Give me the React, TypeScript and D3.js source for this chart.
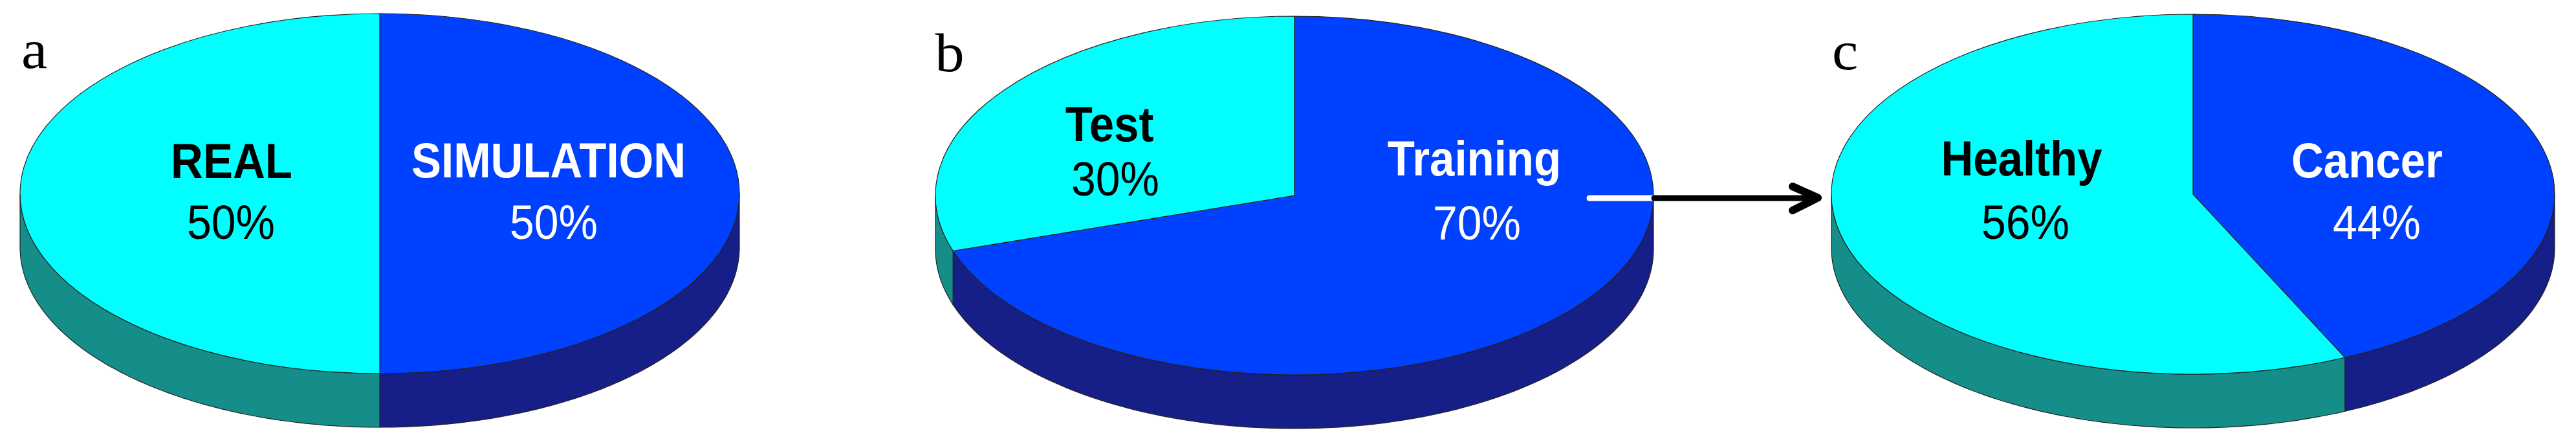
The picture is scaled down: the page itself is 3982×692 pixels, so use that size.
import React from 'react'
import * as d3 from 'd3'

const WIDTH = 3982
const HEIGHT = 692
const DEPTH = 83
const TEXT_STRETCH = 1.1

const panelLetters = ['a', 'b', 'c']

// slice shares, first one runs clockwise from 12 o'clock
const panelAShares = [50, 50]
const panelBShares = [70, 30]
const panelCShares = [43.1, 56.9]

const panelANames = ['SIMULATION', 'REAL']
const panelBNames = ['Training', 'Test']
const panelCNames = ['Cancer', 'Healthy']

const panelAPercents = ['50%', '50%']
const panelBPercents = ['70%', '30%']
const panelCPercents = ['44%', '56%']

const topColors = ['#0040ff', '#00ffff']
const wallColors = ['#161e87', '#158e8a']
const textColors = ['#ffffff', '#000000']

const pies = [
  {
    letter: panelLetters[0], letterX: 53, letterY: 105,
    shares: panelAShares, names: panelANames, percents: panelAPercents,
    cx: 587, cy: 299, rx: 556, ry: 278,
    nameAt: [[848, 274], [358, 275]], pctAt: [[856, 369], [357, 369]],
  },
  {
    letter: panelLetters[1], letterX: 1468, letterY: 110,
    shares: panelBShares, names: panelBNames, percents: panelBPercents,
    cx: 2001, cy: 302, rx: 555, ry: 277,
    nameAt: [[2279, 271], [1715, 218]], pctAt: [[2283, 370], [1724, 302]],
  },
  {
    letter: panelLetters[2], letterX: 2852, letterY: 107,
    shares: panelCShares, names: panelCNames, percents: panelCPercents,
    cx: 3390, cy: 300, rx: 559, ry: 278,
    nameAt: [[3659, 274], [3125, 271]], pctAt: [[3674, 369], [3131, 369]],
  },
]

const pieLayout = d3.pie<number>().sort(null)
const unitArc = d3.arc<d3.PieArcDatum<number>>().innerRadius(0)

// the part of a slice rim that faces the viewer, 90deg..270deg clockwise from top
function wallPath(a0: number, a1: number, rx: number, ry: number) {
  const start = Math.max(a0, Math.PI / 2)
  const end = Math.min(a1, (3 * Math.PI) / 2)
  if (end <= start) return null
  const n = 90
  const front = d3.range(n + 1).map((i) => start + ((end - start) * i) / n)
  const pts: [number, number][] = [
    ...front.map((t) => [rx * Math.sin(t), -ry * Math.cos(t)] as [number, number]),
    ...front.reverse().map((t) => [rx * Math.sin(t), -ry * Math.cos(t) + DEPTH] as [number, number]),
  ]
  return d3.line()(pts) + 'Z'
}

function Pie3D({ pie }: { pie: (typeof pies)[number] }) {
  const arcs = pieLayout(pie.shares)
  const scaleY = pie.ry / pie.rx
  return (
    <g>
      <g transform={`translate(${pie.cx},${pie.cy})`}>
        {arcs.map((d, i) => {
          const wall = wallPath(d.startAngle, d.endAngle, pie.rx, pie.ry)
          return wall ? <path key={i} d={wall} fill={wallColors[i]} stroke="#222" strokeWidth={1.2} /> : null
        })}
        <g transform={`scale(1,${scaleY})`}>
          {arcs.map((d, i) => (
            <path
              key={i}
              d={unitArc({ ...d, outerRadius: pie.rx } as any) as string}
              fill={topColors[i]}
              stroke="#222"
              strokeWidth={1.2}
              vectorEffect="non-scaling-stroke"
            />
          ))}
        </g>
      </g>
      {arcs.map((d, i) => (
        <g key={i} fill={textColors[i]} fontFamily="'Liberation Sans', Arial, sans-serif" textAnchor="middle">
          <text transform={`translate(${pie.nameAt[i][0]},${pie.nameAt[i][1]}) scale(1,${TEXT_STRETCH})`} fontSize={69} fontWeight="bold">
            {pie.names[i]}
          </text>
          <text transform={`translate(${pie.pctAt[i][0]},${pie.pctAt[i][1]}) scale(1,${TEXT_STRETCH})`} fontSize={68}>
            {pie.percents[i]}
          </text>
        </g>
      ))}
      <text
        transform={`translate(${pie.letterX},${pie.letterY}) scale(1.08,1)`}
        fontSize={84}
        fontFamily="'Liberation Serif', serif"
        textAnchor="middle"
        fill="#000"
      >
        {pie.letter}
      </text>
    </g>
  )
}

export default function App() {
  return (
    <svg width={WIDTH} height={HEIGHT} style={{ position: 'absolute', left: 0, top: 0, background: '#fff' }}>
      {pies.map((pie) => <Pie3D key={pie.letter} pie={pie} />)}
      <line x1={2457} y1={306} x2={2557} y2={306} stroke="#fff" strokeWidth={9} strokeLinecap="round" />
      <line x1={2557} y1={306} x2={2808} y2={306} stroke="#000" strokeWidth={9} strokeLinecap="round" />
      <path d="M2771,288 L2810,305.5 L2771,325" fill="none" stroke="#000" strokeWidth={12} strokeLinejoin="round" strokeLinecap="round" />
    </svg>
  )
}
